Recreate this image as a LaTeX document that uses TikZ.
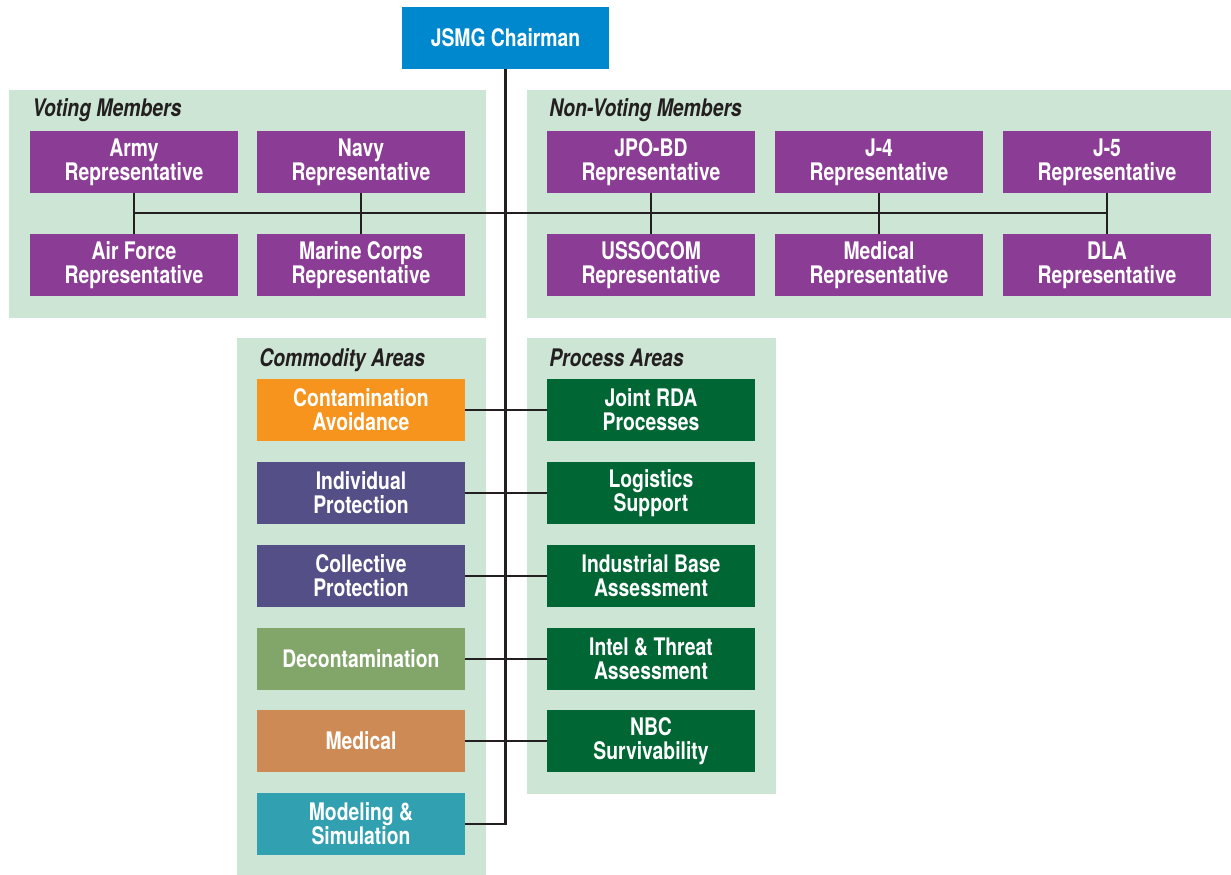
\documentclass[tikz,border=0pt]{standalone}
\usepackage{fontspec}
\setmainfont{TeX Gyre Heros}[FakeStretch=0.8]
\usetikzlibrary{calc}

\definecolor{panelgreen}{HTML}{CDE5D5}
\definecolor{chairblue}{HTML}{0088CF}
\definecolor{repviolet}{HTML}{8B3C94}
\definecolor{caorange}{HTML}{F7941E}
\definecolor{protindigo}{HTML}{554F88}
\definecolor{decongreen}{HTML}{82A66A}
\definecolor{medbrown}{HTML}{CD8A55}
\definecolor{modelteal}{HTML}{31A0B0}
\definecolor{procgreen}{HTML}{006633}
\definecolor{linegray}{HTML}{231F20}

\begin{document}
\begin{tikzpicture}[x=0.025cm,y=-0.025cm,
	box/.style={minimum width=5.2cm,minimum height=1.55cm,inner sep=0pt,text=white,align=center,
		font=\bfseries\fontsize{17.2}{17}\selectfont},
	member/.style={box,fill=repviolet},
	process/.style={box,fill=procgreen},
	paneltitle/.style={anchor=base west,inner sep=0pt,text=linegray,
		font=\bfseries\itshape\fontsize{17.2}{17}\selectfont},
	panel/.style={fill=panelgreen},
	link/.style={draw=linegray,line width=1.6pt}]
		\useasboundingbox (0,0) rectangle (1231,875);
		% panels
		\fill[panel] (9,90) rectangle (486,318);
		\fill[panel] (527,90) rectangle (1231,318);
		\fill[panel] (237,338) rectangle (486,875);
		\fill[panel] (527,338) rectangle (776,794);
		\node[paneltitle] (votingT) at (32,116) {Voting Members};
		\node[paneltitle] (nonvotingT) at (549,116) {Non-Voting Members};
		\node[paneltitle] (commodityT) at (259,366) {Commodity Areas};
		\node[paneltitle] (processT) at (549,366) {Process Areas};
		% chairman
		\node[box,fill=chairblue,minimum width=5.175cm] (chair) at (505.5,38) {JSMG Chairman};
		% members
		\node[member] (army) at (134,162) {Army\\Representative};
		\node[member] (navy) at (361,162) {Navy\\Representative};
		\node[member] (airforce) at (134,265) {Air Force\\Representative};
		\node[member] (marine) at (361,265) {Marine Corps\\Representative};
		\node[member] (jpobd) at (651,162) {JPO-BD\\Representative};
		\node[member] (jfour) at (879,162) {J-4\\Representative};
		\node[member] (jfive) at (1107,162) {J-5\\Representative};
		\node[member] (ussocom) at (651,265) {USSOCOM\\Representative};
		\node[member] (medrep) at (879,265) {Medical\\Representative};
		\node[member] (dla) at (1107,265) {DLA\\Representative};
		% commodity areas
		\node[box,fill=caorange] (contam) at (361,410) {Contamination\\Avoidance};
		\node[box,fill=protindigo] (indiv) at (361,493) {Individual\\Protection};
		\node[box,fill=protindigo] (collect) at (361,576) {Collective\\Protection};
		\node[box,fill=decongreen] (decon) at (361,659) {Decontamination};
		\node[box,fill=medbrown] (medical) at (361,741) {Medical};
		\node[box,fill=modelteal] (model) at (361,824) {Modeling \&\\Simulation};
		% process areas
		\node[process] (rda) at (651,410) {Joint RDA\\Processes};
		\node[process] (logist) at (651,493) {Logistics\\Support};
		\node[process] (indbase) at (651,576) {Industrial Base\\Assessment};
		\node[process] (intel) at (651,659) {Intel \& Threat\\Assessment};
		\node[process] (nbc) at (651,741) {NBC\\Survivability};
		% connectors
		\coordinate (busL) at (134,213);
		\coordinate (busR) at (1107,213);
		\draw[link] (chair.south) |- (model.east);
		\draw[link] (busL) -- (busR);
		\draw[link] (army.south) -- (airforce.north);
		\draw[link] (navy.south) -- (marine.north);
		\draw[link] (jpobd.south) -- (ussocom.north);
		\draw[link] (jfour.south) -- (medrep.north);
		\draw[link] (jfive.south) -- (dla.north);
		\draw[link] (contam.east) -- (rda.west);
		\draw[link] (indiv.east) -- (logist.west);
		\draw[link] (collect.east) -- (indbase.west);
		\draw[link] (decon.east) -- (intel.west);
		\draw[link] (medical.east) -- (nbc.west);
	\end{tikzpicture}
\end{document}
